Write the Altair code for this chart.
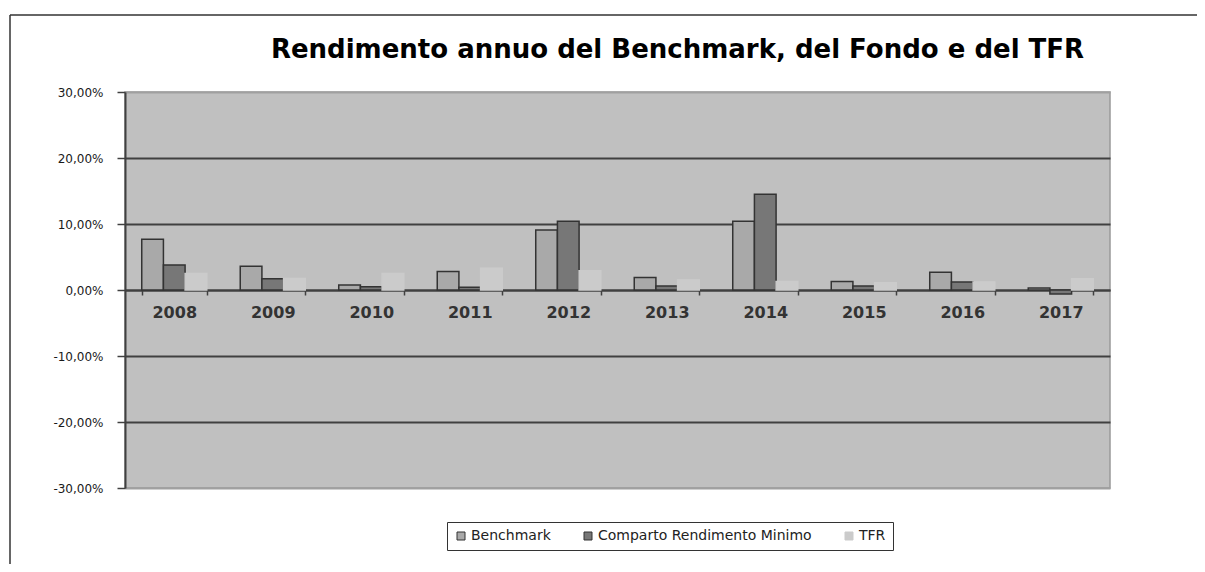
import altair as alt
import pandas as pd

years = ["2008", "2009", "2010", "2011", "2012", "2013", "2014", "2015", "2016", "2017"]
benchmark = [7.7, 3.6, 0.75, 2.8, 9.1, 1.9, 10.4, 1.3, 2.7, 0.3]
comparto = [3.8, 1.7, 0.5, 0.4, 10.4, 0.6, 14.5, 0.6, 1.2, -0.6]
tfr = [2.5, 1.75, 2.5, 3.3, 2.9, 1.5, 1.3, 1.1, 1.2, 1.7]
series_names = ["Benchmark", "Comparto Rendimento Minimo", "TFR"]
y_ticks = [-30, -20, -10, 0, 10, 20, 30]

fills = ["#A9A9A9", "#777777", "#CBCBCB"]
strokes = ["#333333", "#333333", "#CBCBCB"]

rows = []
for i, yr in enumerate(years):
    for s, vals in zip(series_names, [benchmark, comparto, tfr]):
        rows.append({"year": yr, "series": s, "value": vals[i]})
df = pd.DataFrame(rows)

label_expr = "(datum.value < 0 ? '-' : '') + replace(format(abs(datum.value), '.2f'), '.', ',') + '%'"

bars = alt.Chart(df).mark_bar(strokeWidth=1.5).encode(
    x=alt.X(
        "year:N",
        sort=years,
        scale=alt.Scale(paddingInner=0.34, paddingOuter=0.17),
        axis=alt.Axis(
            title=None,
            labelAngle=0,
            offset=-198,
            domainColor="#404040",
            domainWidth=2,
            tickBand="extent",
            tickSize=5,
            tickColor="#404040",
            tickWidth=1.5,
            labelFont="DejaVu Sans",
            labelFontSize=16,
            labelFontWeight="bold",
            labelColor="#333333",
            labelPadding=9,
            grid=False,
        ),
    ),
    xOffset=alt.XOffset("series:N", sort=series_names, scale=alt.Scale(paddingInner=0, paddingOuter=0)),
    y=alt.Y(
        "value:Q",
        scale=alt.Scale(domain=[-30, 30], nice=False, zero=False),
        axis=alt.Axis(
            title=None,
            values=y_ticks,
            labelExpr=label_expr,
            domainColor="#404040",
            domainWidth=2,
            tickColor="#404040",
            tickSize=8,
            tickWidth=1.5,
            labelPadding=14,
            labelFont="DejaVu Sans",
            labelFontSize=12,
            labelColor="#1a1a1a",
            grid=True,
            gridColor={"condition": {"test": "abs(datum.value) == 30", "value": "#A0A0A0"}, "value": "#404040"},
            gridWidth=2,
        ),
    ),
    fill=alt.Fill("series:N", sort=series_names, scale=alt.Scale(domain=series_names, range=fills), title=None),
    stroke=alt.Stroke("series:N", sort=series_names, scale=alt.Scale(domain=series_names, range=strokes), title=None),
)

frame_src = pd.DataFrame({"k": [0]})
frame_top = alt.Chart(frame_src).mark_rule(color="#333333", strokeWidth=1.5).encode(
    x=alt.value(-115), x2=alt.value(1090), y=alt.value(-77)
)
frame_left = alt.Chart(frame_src).mark_rule(color="#333333", strokeWidth=1.5).encode(
    x=alt.value(-115), y=alt.value(-77), y2=alt.value(480)
)

chart = alt.layer(bars, frame_top, frame_left).properties(
    width=985,
    height=396,
    background="white",
    autosize=alt.AutoSizeParams(type="none"),
    padding={"left": 117, "top": 84, "right": 87, "bottom": 76},
    title=alt.TitleParams(
        text="Rendimento annuo del Benchmark, del Fondo e del TFR",
        font="DejaVu Sans",
        fontSize=26,
        fontWeight="bold",
        color="#000000",
        anchor="middle",
        frame="group",
        dx=60,
        offset=-70,
        baseline="alphabetic",
    ),
).configure_view(
    fill="#C0C0C0", stroke="#999999", strokeWidth=1.5
).configure_legend(
    orient="none",
    legendX=322,
    legendY=430,
    direction="horizontal",
    strokeColor="#333333",
    fillColor="white",
    padding=7,
    symbolType="square",
    symbolSize=64,
    symbolStrokeWidth=1,
    labelFont="DejaVu Sans",
    labelFontSize=14,
    labelColor="#222222",
    labelOffset=3,
    labelLimit=400,
    columnPadding=30,
)

chart.save("out.html", embed_options={"renderer": "svg", "actions": False})
